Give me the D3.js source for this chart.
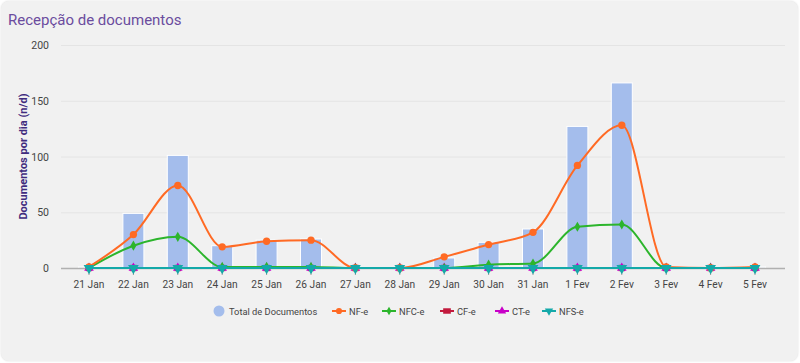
<!DOCTYPE html>
<html>
<head>
<meta charset="utf-8">
<script src="https://cdn.jsdelivr.net/npm/d3@7/dist/d3.min.js"></script>
<style>
  body { margin: 0; background: #fff; }
  #card { position: absolute; left: 1px; top: 1px; width: 797px; height: 360px;
          background: #f1f1f1; border-radius: 8px; box-shadow: 0 0 2px rgba(0,0,0,0.15); }
  svg { position: absolute; left: 0; top: 0; }
  text { font-family: Roboto, Arial, sans-serif; }
</style>
</head>
<body>
<div id="card"></div>
<div id="chart"></div>
<script>
// categories
var days = ["21 Jan","22 Jan","23 Jan","24 Jan","25 Jan","26 Jan","27 Jan","28 Jan",
            "29 Jan","30 Jan","31 Jan","1 Fev","2 Fev","3 Fev","4 Fev","5 Fev"];

// series values
var total = [1, 49, 101, 20, 25, 26, 0, 0, 9, 23, 35, 127, 166, 1, 0, 1];
var nfe   = [1, 30, 74, 19, 24, 25, 0, 0, 10, 21, 32, 92, 128, 1, 0, 1];
var nfce  = [0, 20, 28, 1, 1, 1, 0, 0, 0, 3, 4, 37, 39, 0, 0, 0];
var cfe   = [0, 0, 0, 0, 0, 0, 0, 0, 0, 0, 0, 0, 0, 0, 0, 0];
var cte   = [0, 0, 0, 0, 0, 0, 0, 0, 0, 0, 0, 0, 0, 0, 0, 0];
var nfse  = [0, 0, 0, 0, 0, 0, 0, 0, 0, 0, 0, 0, 0, 0, 0, 0];

var yTicks = [0, 50, 100, 150, 200];

var W = 800, H = 363;
var svg = d3.select("#chart").append("svg").attr("width", W).attr("height", H);

var x = d3.scalePoint().domain(days).range([89, 755]);
var y = d3.scaleLinear().domain([0, 200]).range([268, 45]);

// title
svg.append("text").attr("x", 8).attr("y", 25)
    .attr("font-size", 15).attr("fill", "#6b4c9e")
    .attr("font-family", "'Open Sans', sans-serif")
    .text("Recepção de documentos");

// grid
svg.append("g").selectAll("line").data(yTicks.slice(1)).enter().append("line")
    .attr("x1", 61).attr("x2", 785)
    .attr("y1", function(d) { return y(d) + 0.5; })
    .attr("y2", function(d) { return y(d) + 0.5; })
    .style("stroke", "#e4e4e4").style("stroke-width", 1);

// y labels
svg.append("g").selectAll("text").data(yTicks).enter().append("text")
    .attr("x", 49).attr("y", function(d) { return y(d) + 4; })
    .attr("text-anchor", "end").attr("font-size", 10.5).attr("fill", "#444")
    .text(function(d) { return d; });

// y axis title
svg.append("text")
    .attr("transform", "translate(27," + y(100) + ") rotate(-90)")
    .attr("text-anchor", "middle").attr("font-size", 11).attr("font-weight", "bold")
    .attr("fill", "#3f2b7e")
    .text("Documentos por dia (n/d)");

// bars
svg.append("g").selectAll("rect").data(total).enter().append("rect")
    .attr("x", function(d, i) { return x(days[i]) - 10.5; })
    .attr("width", 21)
    .attr("y", function(d) { return y(d); })
    .attr("height", function(d) { return y(0) - y(d); })
    .style("fill", "#a4bdec")
    .style("stroke", "#fff").style("stroke-width", 1);

// baseline
svg.append("line").attr("x1", 61).attr("x2", 785)
    .attr("y1", y(0) + 0.5).attr("y2", y(0) + 0.5)
    .style("stroke", "#b0b0b0").style("stroke-width", 1.5);

// ticks
svg.append("g").selectAll("line").data(days).enter().append("line")
    .attr("x1", function(d) { return x(d); }).attr("x2", function(d) { return x(d); })
    .attr("y1", y(0)).attr("y2", y(0) + 7)
    .style("stroke", "#999").style("stroke-width", 1);

// x labels
svg.append("g").selectAll("text").data(days).enter().append("text")
    .attr("x", function(d) { return x(d); }).attr("y", 288)
    .attr("text-anchor", "middle").attr("font-size", 10.2).attr("fill", "#444")
    .text(function(d) { return d; });

var series = [
    { name: "CF-e",  values: cfe,  color: "#c21a3d", symbol: d3.symbolSquare,  size: 40 },
    { name: "CT-e",  values: cte,  color: "#c800c8", symbol: d3.symbolTriangle, size: 40 },
    { name: "NFC-e", values: nfce, color: "#2cb52c", symbol: d3.symbolDiamond, size: 30 },
    { name: "NF-e",  values: nfe,  color: "#ff6a24", symbol: d3.symbolCircle,  size: 42 },
    { name: "NFS-e", values: nfse, color: "#14a9a9", symbol: d3.symbolTriangle, size: 50, rot: 180 }
];

var line = d3.line()
    .x(function(d, i) { return x(days[i]); })
    .y(function(d) { return y(d); })
    .curve(d3.curveMonotoneX);

series.forEach(function(s) {
    svg.append("path").datum(s.values).attr("d", line)
        .style("fill", "none").style("stroke", s.color).style("stroke-width", 2);
    svg.append("g").selectAll("path").data(s.values).enter().append("path")
        .attr("d", d3.symbol().type(s.symbol).size(s.size))
        .attr("transform", function(d, i) {
            return "translate(" + x(days[i]) + "," + y(d) + ")" + (s.rot ? " rotate(" + s.rot + ")" : "");
        })
        .style("fill", s.color);
});

// legend
var legend = [
    { name: "Total de Documentos", color: "#a4bdec", x: 219, bar: true },
    { name: "NF-e",  color: "#ff6a24", x: 339, symbol: d3.symbolCircle, size: 30 },
    { name: "NFC-e", color: "#2cb52c", x: 389, symbol: d3.symbolDiamond, size: 22 },
    { name: "CF-e",  color: "#c21a3d", x: 447, symbol: d3.symbolSquare, size: 30, wide: true },
    { name: "CT-e",  color: "#c800c8", x: 502, symbol: d3.symbolTriangle, size: 30 },
    { name: "NFS-e", color: "#14a9a9", x: 549, symbol: d3.symbolTriangle, size: 30, rot: 180 }
];
var ly = 311;
legend.forEach(function(l) {
    if (l.bar) {
        svg.append("circle").attr("cx", l.x).attr("cy", ly).attr("r", 5.5).style("fill", l.color);
    } else {
        svg.append("line").attr("x1", l.x - 7).attr("x2", l.x + 7)
            .attr("y1", ly).attr("y2", ly).style("stroke", l.color).style("stroke-width", 2);
        svg.append("path").attr("d", d3.symbol().type(l.symbol).size(l.size))
            .attr("transform", "translate(" + l.x + "," + ly + ")" + (l.rot ? " rotate(" + l.rot + ")" : "") + (l.wide ? " scale(1.4,1)" : ""))
            .style("fill", l.color);
    }
    svg.append("text").attr("x", l.x + 10).attr("y", ly + 4)
        .attr("font-size", 9.3).attr("fill", "#444").text(l.name);
});
</script>
</body>
</html>
